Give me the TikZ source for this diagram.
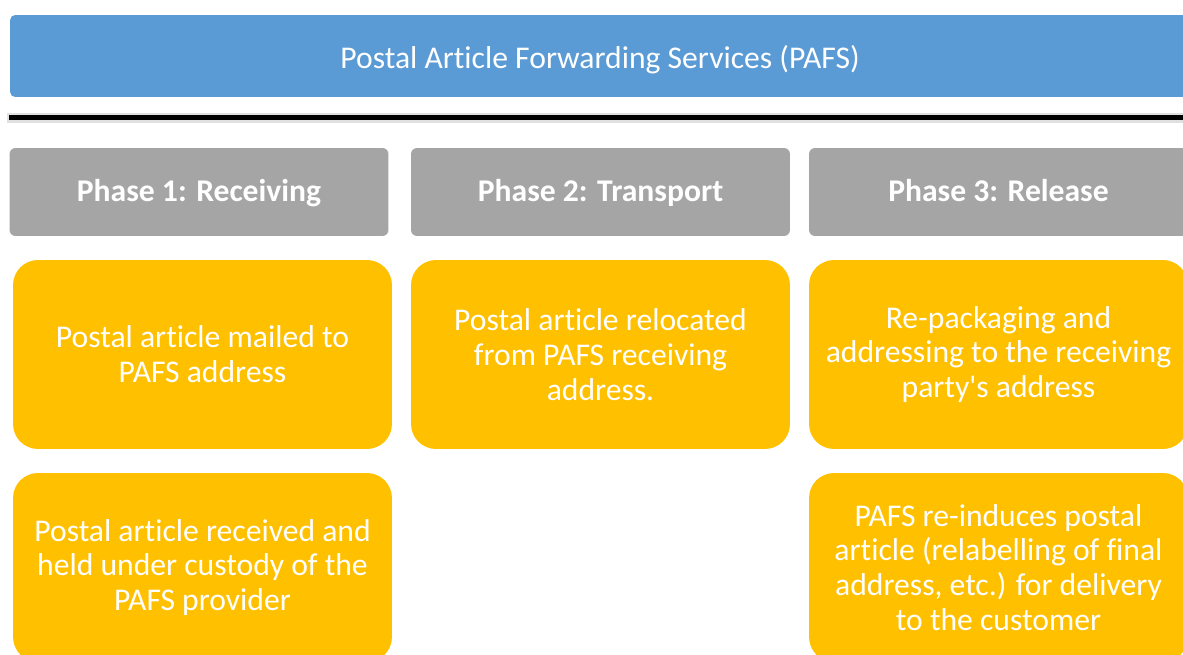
\documentclass[tikz,border=0pt]{standalone}
\usepackage{fontspec}
\setmainfont{Carlito}[Ligatures=NoCommon]
\definecolor{titleblue}{HTML}{5B9BD5}
\definecolor{phasegray}{HTML}{A5A5A5}
\definecolor{stepyellow}{HTML}{FFC000}
\begin{document}
\begin{tikzpicture}[x=0.02cm, y=-0.02cm,
		every node/.style={text=white, align=center, inner sep=0pt, font=\fontsize{18}{19.8}\selectfont},
		title/.style={fill=titleblue, rounded corners=0.1cm, minimum width=23.6cm, minimum height=1.64cm, text height=14pt, text depth=0pt},
		phase/.style={fill=phasegray, rounded corners=0.12cm, minimum width=7.58cm, minimum height=1.76cm, text height=11pt, text depth=0pt, font=\fontsize{18}{19.8}\selectfont\bfseries},
		stepbox/.style={fill=stepyellow, rounded corners=0.5cm, minimum width=7.58cm, minimum height=3.78cm}]
				\useasboundingbox (0, 0) rectangle (1183, 655);
				\clip (0, 0) rectangle (1183, 655);
				\node[title] (pafs) at (600, 56) {Postal Article Forwarding Services (PAFS)};
				\draw[line width=0.2cm, black!12] (7, 118) -- (1190, 118);
				\draw[line width=0.1cm, black] (9, 117.5) -- (1190, 117.5);
				\node[phase] (p1) at (199, 192) {Phase 1: Receiving};
				\node[phase] (p2) at (600.5, 192) {Phase 2: Transport};
				\node[phase] (p3) at (998.5, 192) {Phase 3: Release};
				\node[stepbox] (r1) at (202.5, 354.5) {Postal article mailed to\\PAFS address};
				\node[stepbox] (r2) at (202.5, 567.5) {Postal article received and\\held under custody of the\\PAFS provider};
				\node[stepbox] (t1) at (600.5, 354.5) {Postal article relocated\\from PAFS receiving\\address.};
				\node[stepbox] (s1) at (998.5, 354.5) {Re-packaging and\\addressing to the receiving\\party\textquotesingle s address};
				\node[stepbox] (s2) at (998.5, 567.5) {PAFS re-induces postal\\article (relabelling of final\\address, etc.) for delivery\\to the customer};
			\end{tikzpicture}
\end{document}
